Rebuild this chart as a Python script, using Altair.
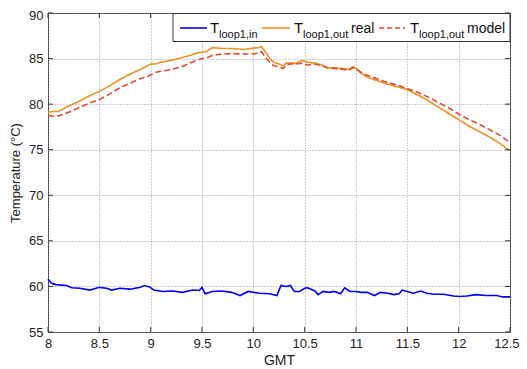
import altair as alt
import pandas as pd

# ---- data ----
t_out = [8.0, 8.05, 8.1, 8.15, 8.2, 8.3, 8.4, 8.5, 8.6, 8.7, 8.8, 8.9, 8.95, 9.0, 9.05, 9.1,
         9.2, 9.3, 9.4, 9.45, 9.5, 9.55, 9.6, 9.7, 9.8, 9.9, 10.0, 10.05, 10.08, 10.12, 10.16,
         10.2, 10.25, 10.29, 10.32, 10.36, 10.42, 10.47, 10.53, 10.6, 10.67, 10.72, 10.8, 10.88,
         10.93, 10.97, 11.0, 11.05, 11.1, 11.2, 11.3, 11.4, 11.5, 11.6, 11.7, 11.8, 11.9, 12.0,
         12.1, 12.2, 12.3, 12.4, 12.5]
t_real = [79.1, 79.2, 79.2, 79.5, 79.8, 80.3, 80.9, 81.4, 82.0, 82.7, 83.3, 83.8, 84.1, 84.4,
          84.4, 84.6, 84.8, 85.1, 85.4, 85.6, 85.7, 85.8, 86.2, 86.1, 86.1, 86.0, 86.15, 86.2,
          86.3, 85.7, 85.0, 84.6, 84.4, 84.2, 84.5, 84.5, 84.5, 84.8, 84.6, 84.5, 84.3, 84.0,
          84.0, 83.9, 83.8, 84.1, 83.9, 83.4, 83.0, 82.6, 82.2, 81.9, 81.6, 81.0, 80.4, 79.7,
          79.0, 78.3, 77.6, 77.0, 76.4, 75.7, 74.9]
t_model = [78.75, 78.7, 78.7, 78.9, 79.1, 79.6, 80.1, 80.5, 81.1, 81.8, 82.3, 82.8, 83.0, 83.2,
           83.5, 83.6, 83.8, 84.1, 84.6, 84.8, 85.0, 85.1, 85.35, 85.5, 85.55, 85.5, 85.5, 85.6,
           85.75, 85.1, 84.6, 84.2, 84.1, 83.9, 84.3, 84.4, 84.4, 84.5, 84.3, 84.4, 84.2, 84.0,
           83.9, 83.8, 83.7, 84.0, 83.9, 83.5, 83.2, 82.8, 82.4, 82.1, 81.7, 81.3, 80.8, 80.2,
           79.6, 78.9, 78.3, 77.8, 77.2, 76.6, 75.8]

t_in = [8.0, 8.035, 8.08, 8.18, 8.23, 8.31, 8.41, 8.5, 8.57, 8.62, 8.7, 8.8, 8.9, 8.94, 8.99,
        9.03, 9.12, 9.21, 9.31, 9.41, 9.47, 9.5, 9.53, 9.6, 9.69, 9.79, 9.87, 9.95, 10.06,
        10.16, 10.23, 10.27, 10.32, 10.36, 10.4, 10.45, 10.5, 10.53, 10.6, 10.63, 10.68, 10.74,
        10.79, 10.85, 10.89, 10.94, 11.0, 11.05, 11.11, 11.18, 11.24, 11.31, 11.37, 11.42,
        11.45, 11.5, 11.56, 11.63, 11.69, 11.76, 11.85, 11.95, 12.01, 12.08, 12.17, 12.27,
        12.37, 12.43, 12.5]
t_loop_in = [60.8, 60.35, 60.2, 60.1, 59.85, 59.8, 59.6, 59.9, 59.8, 59.6, 59.8, 59.7, 59.9,
             60.1, 59.95, 59.6, 59.45, 59.5, 59.35, 59.6, 59.55, 59.9, 59.2, 59.45, 59.5, 59.35,
             59.0, 59.45, 59.25, 59.2, 59.0, 60.1, 60.0, 60.1, 59.45, 59.45, 59.8, 59.85, 59.5,
             59.1, 59.45, 59.35, 59.45, 59.2, 59.85, 59.45, 59.45, 59.35, 59.35, 59.0, 59.35,
             59.25, 59.1, 59.2, 59.6, 59.45, 59.25, 59.5, 59.25, 59.15, 59.15, 58.95, 58.9,
             58.95, 59.1, 59.0, 59.0, 58.85, 58.85]

x_ticks = [8, 8.5, 9, 9.5, 10, 10.5, 11, 11.5, 12, 12.5]
y_ticks = [55, 60, 65, 70, 75, 80, 85, 90]

W, H = 462, 319
FONT = "Liberation Sans"
BLUE, ORANGE, RED = "#0000FF", "#EE9225", "#E8472D"

df_out = pd.DataFrame({"t": t_out, "real": t_real, "model": t_model})
df_in = pd.DataFrame({"t": t_in, "v": t_loop_in})
df_xt = pd.DataFrame({"x": x_ticks})
df_yt = pd.DataFrame({"y": y_ticks})
one = pd.DataFrame({"k": [0]})

xscale = alt.Scale(domain=[8, 12.5], nice=False, zero=False)
yscale = alt.Scale(domain=[55, 90], nice=False, zero=False)

xaxis = alt.Axis(values=x_ticks, format="~g", grid=True, ticks=False,
                 domain=False, labelPadding=5, titlePadding=3, labelFontSize=13,
                 titleFontSize=14, titleFontWeight="normal", labelColor="#222",
                 titleColor="#222", gridDash=[1, 2], gridColor="#9a9a9a", labelFlush=False,
                 labelAlign={"expr": "datum.value == 12.5 ? 'right' : 'center'"},
                 labelOffset={"expr": "datum.value == 12.5 ? 9 : 0"})
yaxis = alt.Axis(values=y_ticks, grid=True, ticks=False,
                 domain=False, labelPadding=5, titlePadding=6, labelFontSize=13,
                 titleFontSize=13, titleFontWeight="normal", labelColor="#222",
                 titleColor="#222", gridDash=[1, 2], gridColor="#9a9a9a", labelFlush=False,
                 labelOffset={"expr": "datum.value == 90 ? 2 : 0"})
XT, YT = "GMT", "Temperature (°C)"


def X(field):
    return alt.X(field, scale=xscale, axis=xaxis, title=XT)


def Y(field):
    return alt.Y(field, scale=yscale, axis=yaxis, title=YT)


blue = alt.Chart(df_in).mark_line(color=BLUE, strokeWidth=1.6).encode(
    x=X("t:Q"), y=Y("v:Q"))
orange = alt.Chart(df_out).mark_line(color=ORANGE, strokeWidth=1.6).encode(
    x=X("t:Q"), y=Y("real:Q"))
red = alt.Chart(df_out).mark_line(color=RED, strokeWidth=1.6, strokeDash=[6, 3]).encode(
    x=X("t:Q"), y=Y("model:Q"))

# inward ticks on all four sides
tick_color = "#333"
ytl = alt.Chart(df_yt).mark_rule(color=tick_color).encode(
    y=Y("y:Q"), x=alt.value(0), x2=alt.value(5))
ytr = alt.Chart(df_yt).mark_rule(color=tick_color).encode(
    y=Y("y:Q"), x=alt.value(W - 5), x2=alt.value(W))
xtb = alt.Chart(df_xt).mark_rule(color=tick_color).encode(
    x=X("x:Q"), y=alt.value(H - 5), y2=alt.value(H))
xtt = alt.Chart(df_xt).mark_rule(color=tick_color).encode(
    x=X("x:Q"), y=alt.value(0), y2=alt.value(5))

# custom legend (subscripted labels)
box = alt.Chart(one).mark_rect(fill="white", stroke="#333", strokeWidth=1).encode(
    x=alt.value(125), x2=alt.value(W), y=alt.value(0.5), y2=alt.value(28.5))


def seg(x1, x2, color, dash=None):
    kw = dict(color=color, strokeWidth=1.6)
    if dash:
        kw["strokeDash"] = dash
    return alt.Chart(one).mark_rule(**kw).encode(
        x=alt.value(x1), x2=alt.value(x2), y=alt.value(15), y2=alt.value(15))


def txt(x, y, s, size):
    return alt.Chart(one).mark_text(align="left", baseline="alphabetic", font=FONT,
                                    fontSize=size, color="#111").encode(
        x=alt.value(x), y=alt.value(y), text=alt.value(s))


legend = [
    box,
    seg(132, 159, BLUE), txt(162, 20, "T", 15), txt(171, 25, "loop1,in", 11),
    seg(214, 242, ORANGE), txt(246, 20, "T", 15), txt(255, 25, "loop1,out", 11),
    txt(303, 20, "real", 14),
    seg(331, 357, RED, [5, 3]), txt(362, 20, "T", 15), txt(371, 25, "loop1,out", 11),
    txt(419, 20, "model", 14),
]

chart = alt.layer(blue, orange, red, ytl, ytr, xtb, xtt, *legend).properties(
    width=W, height=H,
    autosize=alt.AutoSizeParams(type="none"),
    padding={"left": 40, "top": 5, "right": 9, "bottom": 36},
).configure(font=FONT).configure_view(stroke="#333", strokeWidth=1)

chart.save("out.html", embed_options={"renderer": "svg", "actions": False})
